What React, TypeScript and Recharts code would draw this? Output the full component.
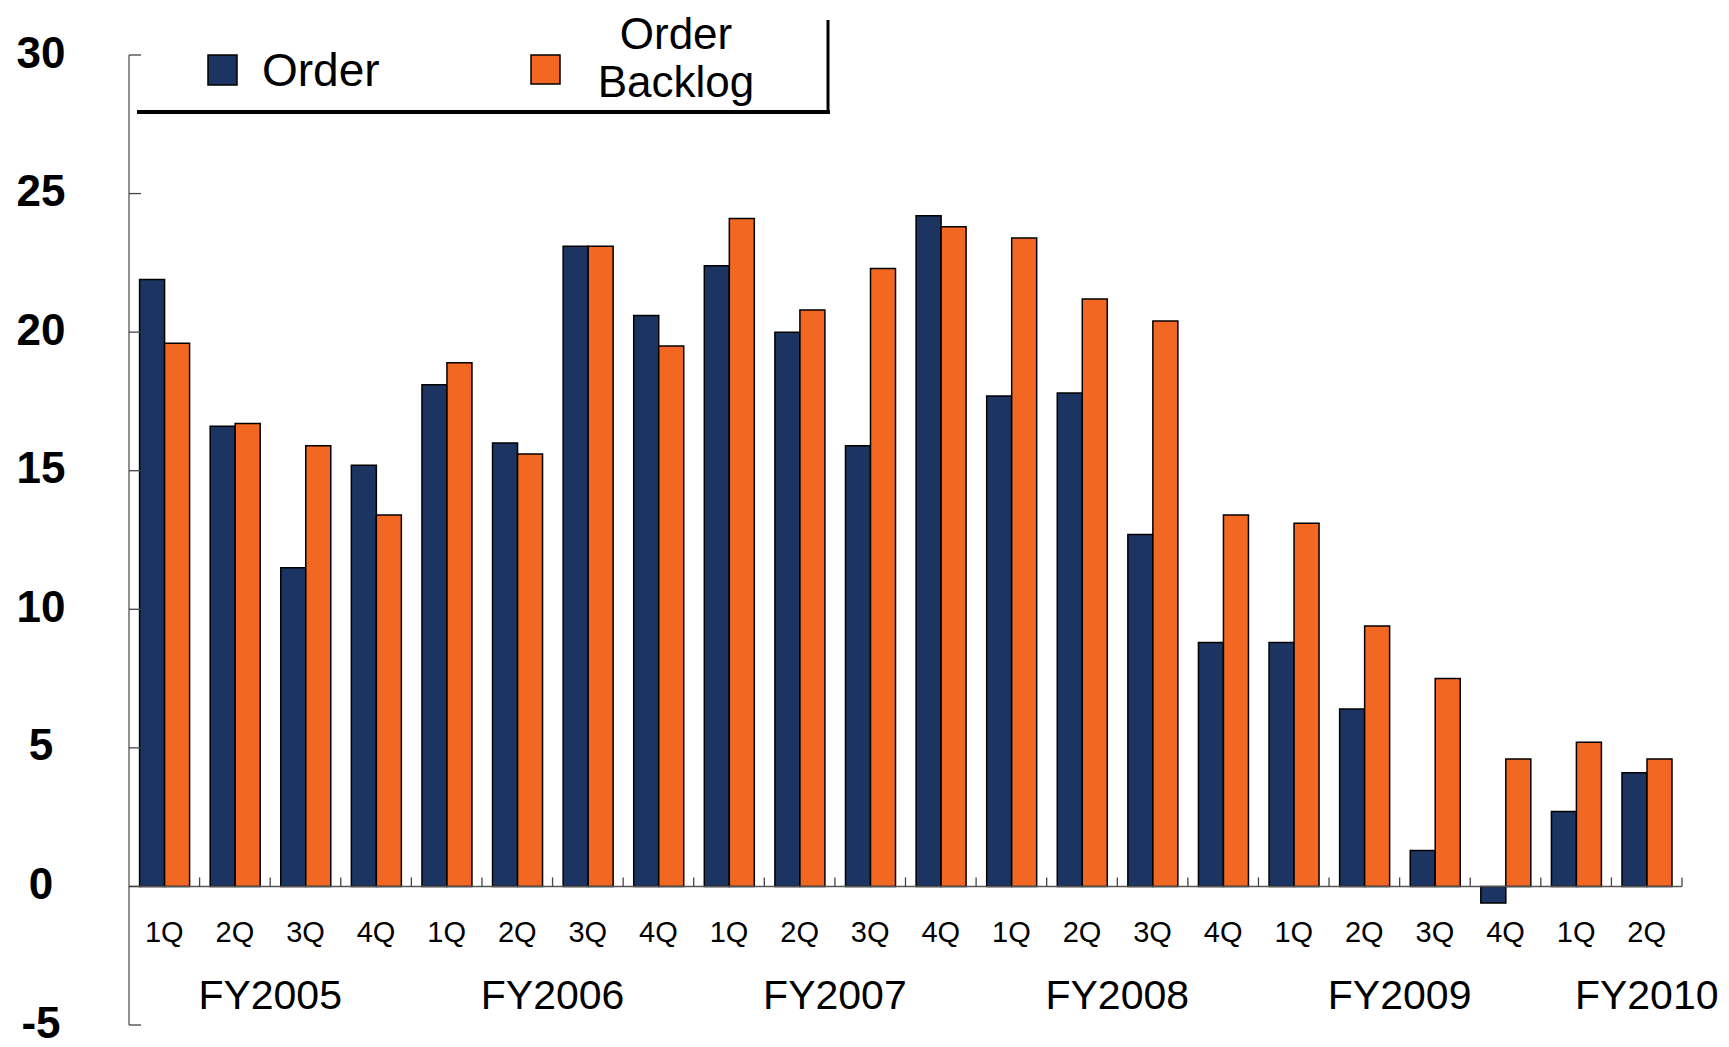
import React from "react";
import {
  BarChart,
  Bar,
  XAxis,
  YAxis,
  ReferenceLine,
  Legend,
} from "recharts";

if (typeof document !== "undefined") document.body.style.margin = "0";

const quarters = [
  "1Q", "2Q", "3Q", "4Q", "1Q", "2Q", "3Q", "4Q", "1Q", "2Q", "3Q",
  "4Q", "1Q", "2Q", "3Q", "4Q", "1Q", "2Q", "3Q", "4Q", "1Q", "2Q",
];

const orderValues = [
  21.9, 16.6, 11.5, 15.2, 18.1, 16.0, 23.1, 20.6, 22.4, 20.0, 15.9,
  24.2, 17.7, 17.8, 12.7, 8.8, 8.8, 6.4, 1.3, -0.6, 2.7, 4.1,
];

const backlogValues = [
  19.6, 16.7, 15.9, 13.4, 18.9, 15.6, 23.1, 19.5, 24.1, 20.8, 22.3,
  23.8, 23.4, 21.2, 20.4, 13.4, 13.1, 9.4, 7.5, 4.6, 5.2, 4.6,
];

// fiscal year label, anchored at the category index it sits on
const yearLabels = ["FY2005", "FY2006", "FY2007", "FY2008", "FY2009", "FY2010"];
const yearAnchors = [1, 5, 9, 13, 17, 21];

const yTicks = [-5, 0, 5, 10, 15, 20, 25, 30];

const data = quarters.map((q, i) => ({
  quarter: q,
  order: orderValues[i],
  backlog: backlogValues[i],
}));

const W = 1729;
const H = 1047;
const X_AXIS_H = 22;
const M = { top: 55, right: 47, bottom: 0, left: 0 };
const Y_AXIS_W = 129;
const PLOT_W = W - M.right - Y_AXIS_W;
const PLOT_H = H - M.top - X_AXIS_H;
const CAT_W = PLOT_W / quarters.length;
const ZERO_UP = (PLOT_H * 5) / 35; // distance from -5 up to 0
const PLOT_BOTTOM = H - X_AXIS_H;

const NAVY = "#1b3461";
const ORANGE = "#f26722";
const FONT = "Arial, 'Liberation Sans', Helvetica, sans-serif";

function QuarterTick(props: any) {
  const { x, payload } = props;
  const i = payload?.index ?? props.index ?? 0;
  const zeroY = PLOT_BOTTOM - ZERO_UP;
  const yi = yearAnchors.indexOf(i);
  const last = i === quarters.length - 1;
  return (
    <g>
      <line
        x1={x + CAT_W / 2}
        x2={x + CAT_W / 2}
        y1={zeroY - 9}
        y2={zeroY}
        stroke="#444"
        strokeWidth={1.3}
      />
      <text
        x={x}
        y={PLOT_BOTTOM - 93}
        textAnchor="middle"
        dominantBaseline="central"
        fontFamily={FONT}
        fontSize={29}
        fill="#000"
      >
        {payload.value}
      </text>
      {yi >= 0 && (
        <text
          x={last ? x : x + CAT_W / 2}
          y={PLOT_BOTTOM - 30}
          textAnchor="middle"
          dominantBaseline="central"
          fontFamily={FONT}
          fontSize={41}
          fill="#000"
        >
          {yearLabels[yi]}
        </text>
      )}
    </g>
  );
}

function ValueTick(props: any) {
  const { y, payload } = props;
  return (
    <g>
      <line x1={Y_AXIS_W} x2={Y_AXIS_W + 12} y1={y} y2={y} stroke="#444" strokeWidth={1.3} />
      <text
        x={41}
        y={y - 3}
        textAnchor="middle"
        dominantBaseline="central"
        fontFamily={FONT}
        fontWeight="bold"
        fontSize={44}
        fill="#000"
      >
        {payload.value}
      </text>
    </g>
  );
}

function LegendBox() {
  return (
    <svg width={900} height={125} style={{ display: "block" }}>
      <line x1={137} x2={830} y1={112} y2={112} stroke="#000" strokeWidth={4} />
      <line x1={828} x2={828} y1={20} y2={114} stroke="#000" strokeWidth={3} />
      <rect x={208} y={55} width={29} height={30} fill={NAVY} stroke="#000" strokeWidth={1.5} />
      <text x={262} y={70} dominantBaseline="central" fontFamily={FONT} fontSize={46} fill="#000">
        Order
      </text>
      <rect x={531} y={55} width={29} height={29} fill={ORANGE} stroke="#000" strokeWidth={1.5} />
      <text x={676} y={33} textAnchor="middle" dominantBaseline="central" fontFamily={FONT} fontSize={44} fill="#000">
        Order
      </text>
      <text x={676} y={81} textAnchor="middle" dominantBaseline="central" fontFamily={FONT} fontSize={44} fill="#000">
        Backlog
      </text>
    </svg>
  );
}

export default function App() {
  return (
    <div style={{ width: W, height: H, background: "#fff" }}>
      <BarChart
        width={W}
        height={H}
        data={data}
        margin={M}
        barGap={0}
        barCategoryGap="15%"
      >
        <XAxis
          dataKey="quarter"
          height={X_AXIS_H}
          axisLine={false}
          tickLine={false}
          interval={0}
          tick={<QuarterTick />}
        />
        <YAxis
          width={Y_AXIS_W}
          domain={[-5, 30]}
          ticks={yTicks}
          interval={0}
          axisLine={{ stroke: "#555", strokeWidth: 1.3 }}
          tickLine={false}
          tickSize={0}
          tickMargin={0}
          tick={<ValueTick />}
        />
        <ReferenceLine y={0} stroke="#555" strokeWidth={1.5} />
        <Legend
          layout="horizontal"
          verticalAlign="middle"
          align="center"
          wrapperStyle={{ top: 0, left: 0, width: 900, height: 125 }}
          content={() => <LegendBox />}
        />
        <Bar
          dataKey="order"
          name="Order"
          fill={NAVY}
          stroke="#000"
          strokeWidth={1.5}
          isAnimationActive={false}
        />
        <Bar
          dataKey="backlog"
          name="Order Backlog"
          fill={ORANGE}
          stroke="#000"
          strokeWidth={1.5}
          isAnimationActive={false}
        />
      </BarChart>
    </div>
  );
}
